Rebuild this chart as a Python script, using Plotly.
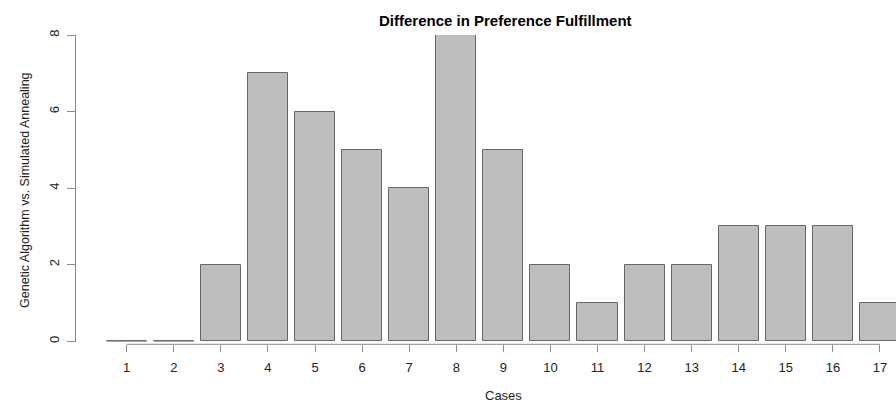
import plotly.graph_objects as go

cases = list(range(1, 18))
values = [0, 0, 2, 7, 6, 5, 4, 8, 5, 2, 1, 2, 2, 3, 3, 3, 1]
y_ticks = [0, 2, 4, 6, 8]
title = "Difference in Preference Fulfillment"
x_title = "Cases"
y_title = "Genetic Algorithm vs. Simulated Annealing"

W, H = 896, 403
bar_w = 0.85

ml, mr, mt, mb = 76, 0, 35, 40
plot_h = H - mt - mb
plot_w = W - ml - mr
ydom0 = (H - mb - 342.4) / plot_h
xpos = (H - mb - 344.3) / plot_h

fig = go.Figure()
fig.add_trace(go.Bar(
    x=cases, y=values, width=bar_w,
    marker=dict(color="#BEBEBE", line=dict(color="#666666", width=1)),
    showlegend=False, hoverinfo="skip",
))
# zero-height bars drawn as flat outlines
zx, zy = [], []
for c, v in zip(cases, values):
    if v == 0:
        zx += [c - bar_w / 2, c + bar_w / 2, None]
        zy += [0, 0, None]
fig.add_trace(go.Scatter(x=zx, y=zy, mode="lines",
                         line=dict(color="#8a8a8a", width=1),
                         showlegend=False, hoverinfo="skip"))

# x axis line from first to last category
fig.add_shape(type="line", xref="x", yref="paper",
              x0=cases[0], x1=cases[-1], y0=xpos, y1=xpos,
              line=dict(color="#8a8a8a", width=1))

x0 = 1 - (126.7 - ml) / 47.08
x1 = 1 + (W - 126.7) / 47.08
font = "Liberation Sans, Arial"
fig.update_xaxes(range=[x0, x1], tickvals=cases, ticktext=[str(c) for c in cases],
                 showgrid=False, zeroline=False, showline=False,
                 ticks="outside", ticklen=7, tickcolor="#8a8a8a", tickwidth=1,
                 anchor="free", position=xpos, ticklabelstandoff=4,
                 tickfont=dict(family=font, size=13, color="#222"))
fig.update_yaxes(range=[-0.03, 8], tickvals=y_ticks, showgrid=False, zeroline=False,
                 showline=True, linecolor="#8a8a8a", linewidth=1,
                 ticks="outside", ticklen=8, tickcolor="#8a8a8a", tickwidth=1,
                 tickangle=-90, domain=[ydom0, 1], ticklabelstandoff=3,
                 tickfont=dict(family=font, size=13, color="#222"))


def ax(xp):
    return (xp - ml) / plot_w


def ay(yp):
    return (H - mb - yp) / plot_h


fig.add_annotation(text="<b>" + title + "</b>", xref="paper", yref="paper",
                   x=ax(505), y=ay(20), showarrow=False, xanchor="center", yanchor="middle",
                   font=dict(family=font, size=15, color="#000"))
fig.add_annotation(text=x_title, xref="paper", yref="paper",
                   x=ax(503), y=ay(395), showarrow=False, xanchor="center", yanchor="middle",
                   font=dict(family=font, size=13, color="#222"))
fig.add_annotation(text=y_title, xref="paper", yref="paper", textangle=-90,
                   x=ax(25), y=ay(190), showarrow=False, xanchor="center", yanchor="middle",
                   font=dict(family=font, size=12.5, color="#222"))

fig.update_layout(width=W, height=H, margin=dict(l=ml, r=mr, t=mt, b=mb),
                  plot_bgcolor="white", paper_bgcolor="white", bargap=0)
fig.write_html("out.html", config={"displayModeBar": False},
               post_script="document.body.style.margin='0';document.body.style.overflow='hidden';")
